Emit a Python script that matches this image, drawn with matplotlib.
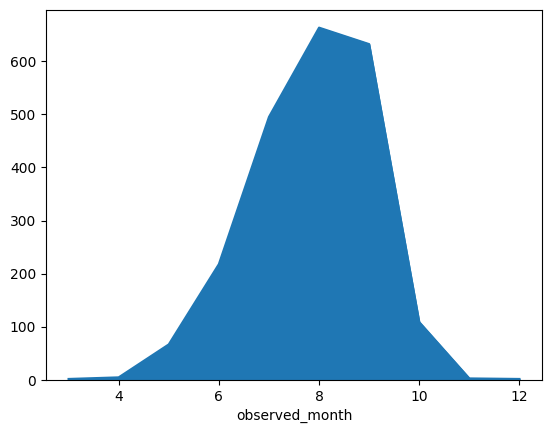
import matplotlib
matplotlib.use("Agg")
import matplotlib.pyplot as plt
import pandas as pd

months = [3, 4, 5, 6, 7, 8, 9, 10, 11, 12]
counts = [2, 5, 67, 218, 495, 663, 632, 109, 3, 2]

s = pd.Series(counts, index=pd.Index(months, name="observed_month"))
fig, ax = plt.subplots(figsize=(5.52, 4.33), dpi=100)
s.plot.area(ax=ax)
fig.subplots_adjust(left=46/552, right=542/552, bottom=1-380/433, top=1-10/433)
fig.savefig("out.png", dpi=100)
